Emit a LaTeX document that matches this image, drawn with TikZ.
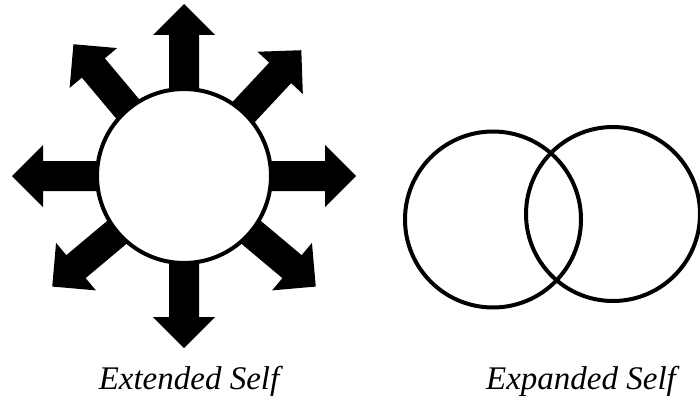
\documentclass[tikz,border=0pt]{standalone}
\usepackage{fontspec}
\setmainfont{Liberation Serif}
\usetikzlibrary{positioning}

\begin{document}
\begin{tikzpicture}[
  x=1pt, y=-1pt,
  ring/.style={circle, draw=black, line width=4pt, fill=white, inner sep=0pt},
  ray/.style={fill=black},
  caption/.style={font=\fontsize{33}{36}\selectfont\itshape, inner sep=0pt, anchor=base}
]
  \useasboundingbox (0,0) rectangle (700,398);

  % rays round the extended self
  \coordinate (hub) at (184,176);
  \foreach \ang in {90,47,0,-40,-90,220,180,130}{
    \begin{scope}[shift={(hub)}, rotate=\ang]
      \fill[ray] (80,-15) -- (141,-15) -- (141,-31) -- (172,0)
        -- (141,31) -- (141,15) -- (80,15) -- cycle;
    \end{scope}
  }
  \node[ring, minimum size=174pt] (self) at (hub) {};

  % expanded self
  \node[ring, fill=none, minimum size=176pt] (selfA) at (493,219.5) {};
  \node[ring, fill=none, minimum size=174pt] (selfB) at (613,214) {};

  \node[caption] (extended) at (189,389) {Extended Self};
  \node[caption] (expanded) at (581,389) {Expanded Self};
\end{tikzpicture}
\end{document}
